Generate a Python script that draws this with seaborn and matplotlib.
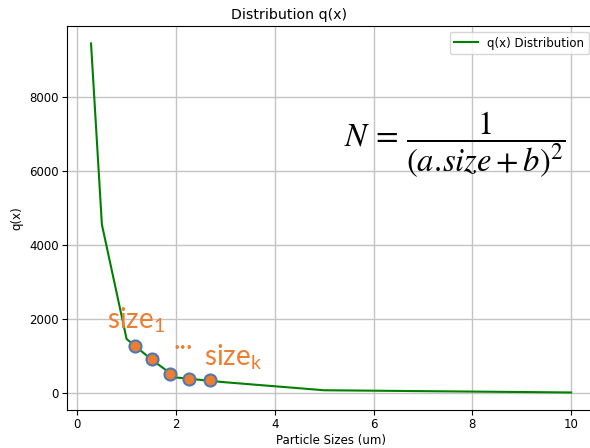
import matplotlib
matplotlib.use('Agg')
import matplotlib.pyplot as plt
import seaborn as sns
import pandas as pd

# Data
sizes = [0.28, 0.5, 1.0, 1.5, 2.0, 3.0, 5.0, 10.0]
q_values = [9450, 4560, 1470, 920, 430, 300, 85, 25]

marked_sizes = [1.17, 1.51, 1.87, 2.27, 2.69]
marked_q = [1290, 940, 528, 399, 350]

orange = '#ED7D31'

plt.rcParams['font.size'] = 8.5
plt.rcParams['mathtext.rm'] = 'Lato'
plt.rcParams['mathtext.it'] = 'Lato:italic'

df = pd.DataFrame({'size': sizes, 'q': q_values})
marks = pd.DataFrame({'size': marked_sizes, 'q': marked_q})

fig = plt.figure(figsize=(5.9, 4.48), dpi=100)
ax = fig.add_axes([0.1136, 0.085, 0.895, 0.857])

sns.lineplot(x='size', y='q', data=df, color='green', linewidth=1.5, label='q(x) Distribution', ax=ax)
sns.scatterplot(x='size', y='q', data=marks, color=orange, edgecolor='#4F78B0', linewidth=1.5, s=75, zorder=3, ax=ax)

ax.grid(True, color='#c4c4c4', linewidth=1.0)
ax.tick_params(pad=2.5)
ax.set_xlabel('Particle Sizes (um)', labelpad=2)
ax.set_ylabel('q(x)')
ax.legend(loc='upper right')
fig.text(0.49, 0.958, 'Distribution q(x)', ha='center', va='baseline', fontsize=10.2)

# formula and annotations
ax.text(7.64, 6720, r'$N\,=\,\dfrac{1}{(a.\!size+b)^2}$', fontsize=23.5, math_fontfamily='stix',
        ha='center', va='center')
ax.text(0.61, 1760, r'$\mathrm{size}_\mathrm{1}$', fontsize=20, color=orange,
        math_fontfamily='custom', va='baseline')
ax.text(1.96, 1190, '...', fontsize=20, color=orange, family='Lato', va='baseline')
ax.text(2.57, 760, r'$\mathrm{size}_\mathrm{k}$', fontsize=20, color=orange,
        math_fontfamily='custom', va='baseline')

plt.savefig('out.png', dpi=100)
plt.close()
